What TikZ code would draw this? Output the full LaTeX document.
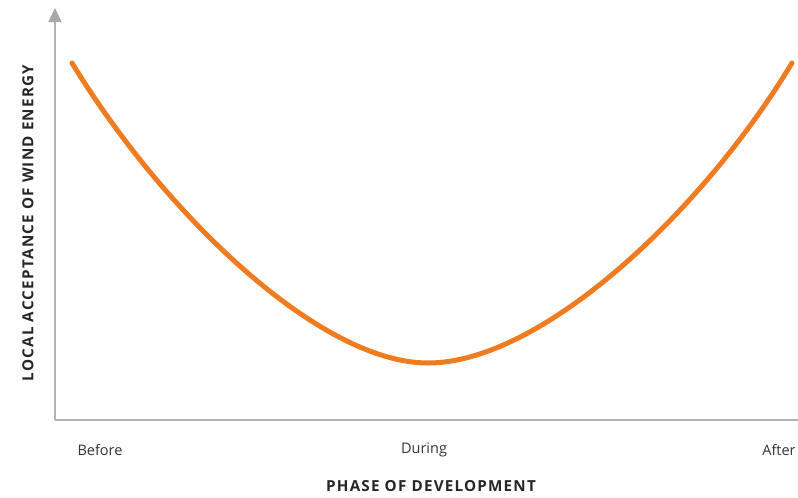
\documentclass[tikz,border=0pt]{standalone}
\usepackage{fontspec}
\setmainfont{Open Sans}
\newfontfamily\axisfont[LetterSpace=8]{Open Sans Bold}
\usetikzlibrary{arrows.meta}
\definecolor{curveorange}{HTML}{F07C22}
\definecolor{axisgray}{HTML}{B4B4B4}
\definecolor{tipgray}{HTML}{A6A6A6}
\tikzset{
  axisline/.style={draw=axisgray, line width=1.4pt},
  phase/.style={font=\fontsize{14.5}{17}\selectfont, text=black!80},
  axistitle/.style={font=\axisfont\fontsize{15.2}{18}\selectfont, text=black!85}
}
\begin{document}
\begin{tikzpicture}[x=1pt, y=-1pt]
      \useasboundingbox (0,0) rectangle (798,498);
      \coordinate (origin) at (55,420);
      \coordinate (ytop) at (55,8);
      \coordinate (xend) at (798,420);
      \coordinate (start) at (72,63);
      \coordinate (low) at (428,363);
      \coordinate (stop) at (792,63);
      \draw[axisline, -{Triangle[length=14pt, width=13pt, color=tipgray]}] (origin) -- (ytop);
      \draw[axisline] (origin) -- (xend);
      \draw[curveorange, line width=5pt, line cap=round]
        (start) .. controls (165,215) and (320,363) .. (low)
        .. controls (540,363) and (700,215) .. (stop);
      \node[phase] (before) at (100,450) {Before};
      \node[phase] (during) at (424,450) {During};
      \node[phase] (after) at (779,450) {After};
      \node[axistitle] (xtitle) at (431,486) {PHASE OF DEVELOPMENT};
      \node[axistitle, rotate=90] (ytitle) at (28,223) {LOCAL ACCEPTANCE OF WIND ENERGY};
    \end{tikzpicture}
\end{document}
